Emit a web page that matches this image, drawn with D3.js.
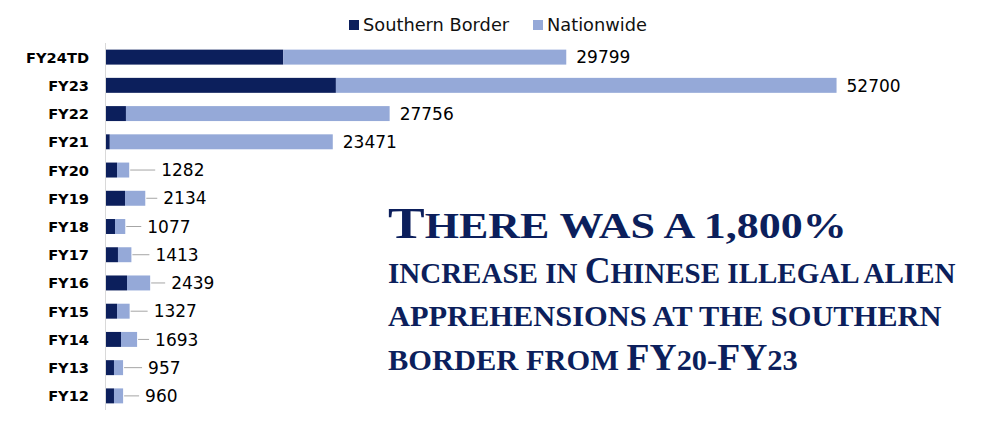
<!DOCTYPE html>
<html>
<head>
<meta charset="utf-8">
<script src="https://cdn.jsdelivr.net/npm/d3@7"></script>
<style>
  html, body { margin: 0; padding: 0; background: #fff; }
  svg { display: block; }
</style>
</head>
<body>
<svg id="chart" width="1002" height="428"></svg>
<script>
// ---- data ----
const categories = ["FY24TD","FY23","FY22","FY21","FY20","FY19","FY18","FY17","FY16","FY15","FY14","FY13","FY12"];
const southernBorder = [18650, 24200, 2100, 400, 1160, 2000, 950, 1260, 2210, 1160, 1580, 840, 840];
const nationwide = [29799, 52700, 27756, 23471, 1282, 2134, 1077, 1413, 2439, 1327, 1693, 957, 960];
const seriesNames = ["Southern Border", "Nationwide"];
// extra gap (px) between bar end and value label, for labels with leader lines
const labelGaps = [10, 10, 10, 10, 32, 18, 22, 24, 21, 24, 18, 25, 22];

const titleLines = [
  [["T","cap"],["HERE WAS A 1,800%","sc"]],
  [["INCREASE IN ","sc"],["C","cap"],["HINESE ILLEGAL ALIEN","sc"]],
  [["APPREHENSIONS AT THE SOUTHERN","sc"]],
  [["BORDER FROM ","sc"],["FY","cap"],["20-","sc"],["FY","cap"],["23","sc"]]
];

// ---- layout ----
const colors = ["#0c1f5c", "#95a9d8"];
const svg = d3.select("#chart");

const x = d3.scaleLinear().domain([0, 80000]).range([106, 866]);
const y = d3.scaleBand().domain(categories).range([43, 410]).paddingInner(0.47).paddingOuter(0.235);

// axis line
svg.append("line")
  .attr("x1", 105.5).attr("x2", 105.5)
  .attr("y1", 43).attr("y2", 410)
  .attr("stroke", "#d9d9d9").attr("stroke-width", 1);

// category labels
svg.append("g").selectAll("text").data(categories).join("text")
  .attr("x", 89)
  .attr("y", d => y(d) + y.bandwidth() / 2 + 5.5)
  .attr("text-anchor", "end")
  .attr("font-family", "DejaVu Sans")
  .attr("font-weight", "bold")
  .attr("font-size", 14.6)
  .attr("fill", "#000")
  .text(d => d);

// stacked bars
const rows = categories.map((c, i) => ({ c, s: southernBorder[i], n: nationwide[i], gap: labelGaps[i] }));
const g = svg.append("g");
g.selectAll("rect.s").data(rows).join("rect")
  .attr("class", "s")
  .attr("x", x(0))
  .attr("y", d => y(d.c))
  .attr("width", d => x(d.s) - x(0))
  .attr("height", y.bandwidth())
  .attr("fill", colors[0]);
g.selectAll("rect.n").data(rows).join("rect")
  .attr("class", "n")
  .attr("x", d => x(d.s))
  .attr("y", d => y(d.c))
  .attr("width", d => x(d.s + d.n) - x(d.s))
  .attr("height", y.bandwidth())
  .attr("fill", colors[1]);

// leader lines
g.selectAll("line.lead").data(rows.filter(d => d.gap > 12)).join("line")
  .attr("class", "lead")
  .attr("x1", d => x(d.s + d.n) + 1)
  .attr("x2", d => x(d.s + d.n) + d.gap - 6)
  .attr("y1", d => y(d.c) + y.bandwidth() / 2)
  .attr("y2", d => y(d.c) + y.bandwidth() / 2)
  .attr("stroke", "#a6a6a6").attr("stroke-width", 1);

// value labels
g.selectAll("text.val").data(rows).join("text")
  .attr("class", "val")
  .attr("x", d => x(d.s + d.n) + d.gap)
  .attr("y", d => y(d.c) + y.bandwidth() / 2 + 6.2)
  .attr("font-family", "DejaVu Sans")
  .attr("font-size", 17)
  .attr("fill", "#000")
  .text(d => d.n);

// legend
const legendX = [349, 533];
const lg = svg.append("g");
seriesNames.forEach((name, i) => {
  lg.append("rect").attr("x", legendX[i]).attr("y", 20).attr("width", 10).attr("height", 10).attr("fill", colors[i]);
  lg.append("text").attr("x", legendX[i] + 14).attr("y", 31)
    .attr("font-family", "DejaVu Sans").attr("font-size", 17.8).attr("fill", "#111")
    .text(name);
});

// annotation
const titleBase = [238, 283, 326, 370];
const titleWidths = [459, 568, 554, 410];
const titleX = 388;
const capSize = [45, 37, 37, 37];
const scSize = [36, 30, 30, 30];
titleLines.forEach((runs, li) => {
  const t = svg.append("text")
    .attr("x", titleX).attr("y", titleBase[li])
    .attr("font-family", "Liberation Serif")
    .attr("font-weight", "bold")
    .attr("fill", "#0c1f5c");
  runs.forEach(([txt, kind]) => {
    t.append("tspan")
      .attr("font-size", kind === "cap" ? capSize[li] : scSize[li])
      .text(txt);
  });
  const w = t.node().getBBox().width;
  const k = titleWidths[li] / w;
  t.attr("transform", `translate(${titleX},0) scale(${k},1) translate(${-titleX},0)`);
});
</script>
</body>
</html>
